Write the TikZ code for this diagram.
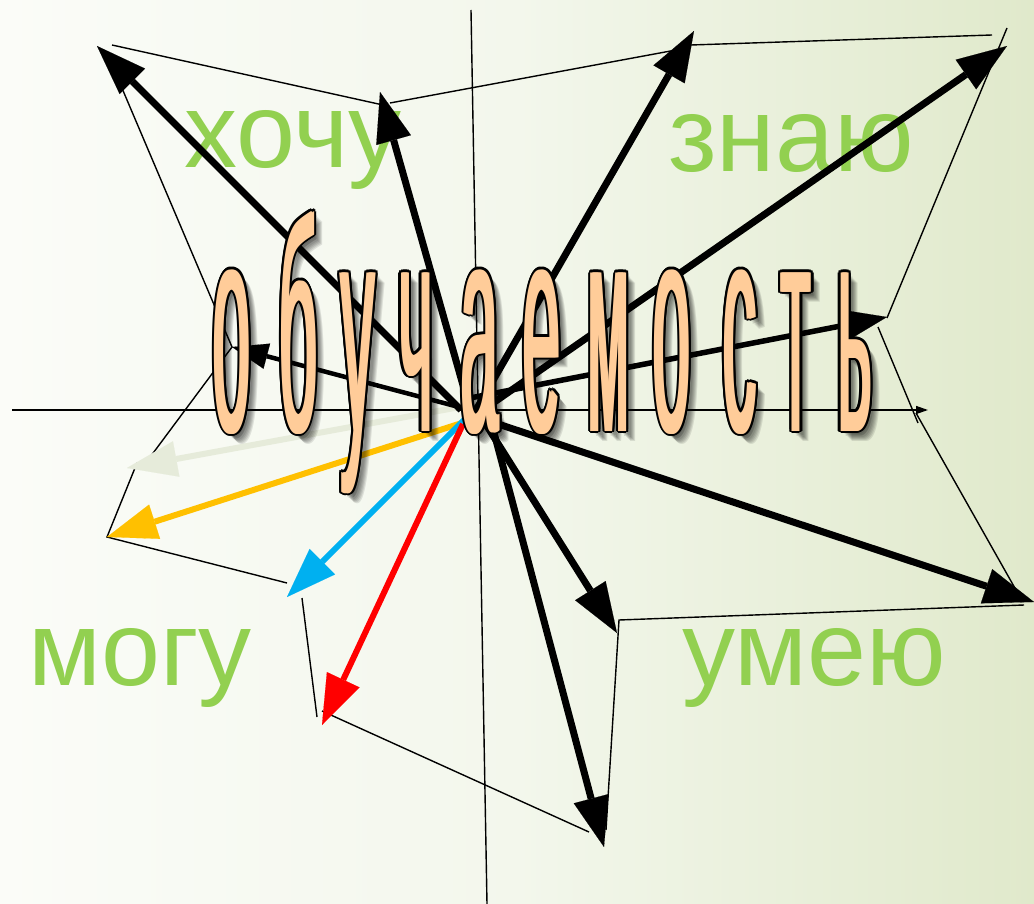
\documentclass[tikz,border=0pt]{standalone}
\usepackage{graphicx}
\usepackage{fontspec}
\setmainfont{Liberation Sans}
\usetikzlibrary{arrows.meta}
\definecolor{grn}{HTML}{92D050}
\definecolor{peach}{HTML}{FFCC99}
\definecolor{orng}{HTML}{FFC000}
\definecolor{sky}{HTML}{00B0F0}
\definecolor{pale}{HTML}{E6EBDA}
\definecolor{bgL}{HTML}{FBFCF8}
\definecolor{bgM}{HTML}{F3F7EC}
\definecolor{bgR}{HTML}{E0E9CB}
\newcommand{\WA}[2][0.225]{\scalebox{#1}[1]{\fontsize{300}{300}\selectfont #2}}
\newcommand{\obletter}[4][0.225]{%
  \foreach \dx/\dy in {3/3,4/5,5/4,6/6,7/7,8/8,9/9,10/10}
    \node[lshadow] at (#3+\dx,431+\dy) {\WA[#1]{#4}};
  \foreach \sx in {-1.4,1.4}
    \foreach \a in {0,30,...,330}
      \node[lout,shift={(\a:2.1pt)},xshift=\sx pt] at (#3,431) {\WA[#1]{#4}};
  \foreach \sx in {-1.4,0,1.4}
    \node[lfill,xshift=\sx pt] at (#3,431) {\WA[#1]{#4}};
  \coordinate (#2) at (#3,431);
}
\begin{document}
\begin{tikzpicture}[x=1pt,y=-1pt,
  thinln/.style={line width=1.4pt,black},
  big/.style={line width=7pt,-{Triangle[length=50pt,width=36pt,line width=0.1pt]}},
  colr/.style={line width=6pt,-{Triangle[length=50pt,width=36pt,line width=0.1pt]}},
  mid/.style={line width=5.5pt,-{Triangle[length=44pt,width=32pt,line width=0.1pt]}},
  small/.style={line width=4.5pt,-{Triangle[length=36pt,width=26pt,line width=0.1pt]}},
  word/.style={anchor=base,inner sep=0pt,text=grn,font=\fontsize{106}{106}\selectfont},
  lshadow/.style={anchor=base,inner sep=0pt,text=black,text opacity=0.1},
  lout/.style={anchor=base,inner sep=0pt,text=black},
  lfill/.style={anchor=base,inner sep=0pt,text=peach}]
\useasboundingbox (0,0) rectangle (1034,904);
\shade[left color=bgL,right color=bgR,middle color=bgM] (0,0) rectangle (1034,904);

% green words
\node[word] (w1) at (293,168) {хочу};
\node[word] (w2) at (791,172) {знаю};
\node[word] (w3) at (140,685) {могу};
\node[word] (w4) at (814,685) {умею};

% axes
\coordinate (ax1) at (12,410);
\coordinate (ax2) at (928,410);
\coordinate (ay1) at (471,10);
\coordinate (ay2) at (487,904);
\draw[thinln,-{Triangle[length=12pt,width=8pt]}] (ax1) -- (ax2);
\draw[thinln] (ay1) -- (ay2);

% thin polygon lines
\coordinate (p1) at (112,45);  \coordinate (p2) at (383,105);
\coordinate (p3) at (390,103); \coordinate (p4) at (676,50);
\coordinate (p5) at (691,45);  \coordinate (p6) at (992,35);
\coordinate (p7) at (1007,28); \coordinate (p8) at (887,318);
\coordinate (p9) at (878,327); \coordinate (p10) at (918,423);
\coordinate (p11) at (916,413); \coordinate (p12) at (1016,590);
\coordinate (p13) at (1024,605); \coordinate (p14) at (619,620);
\coordinate (p15) at (606,830);
\coordinate (p16) at (589,832); \coordinate (p17) at (322,711);
\coordinate (p18) at (317,717); \coordinate (p19) at (302,598);
\coordinate (p20) at (287,583); \coordinate (p21) at (107,537);
\coordinate (p22) at (137,463);
\coordinate (p23) at (142,468); \coordinate (p24) at (232,347);
\coordinate (p25) at (110,60);
\draw[thinln] (p1) -- (p2);
\draw[thinln] (p3) -- (p4);
\draw[thinln] (p5) -- (p6);
\draw[thinln] (p7) -- (p8);
\draw[thinln] (p9) -- (p10);
\draw[thinln] (p11) -- (p12);
\draw[thinln] (p13) -- (p14) -- (p15);
\draw[thinln] (p16) -- (p17);
\draw[thinln] (p18) -- (p19);
\draw[thinln] (p20) -- (p21) -- (p22);
\draw[thinln] (p23) -- (p24) -- (p25);

% arrow starts and tips
\coordinate (s1) at (461,410);  \coordinate (t1) at (97,46);
\coordinate (s2) at (470,410);  \coordinate (t2) at (380,92);
\coordinate (s3) at (476,410);  \coordinate (t3) at (694,31);
\coordinate (s4) at (480,412);  \coordinate (t4) at (1007,46);
\coordinate (s5) at (470,398);  \coordinate (t5) at (887,317);
\coordinate (s6) at (465,413);  \coordinate (t6) at (1034,602);
\coordinate (s7) at (475,407);  \coordinate (t7) at (617,633);
\coordinate (s8) at (488,410);  \coordinate (t8) at (604,847);
\coordinate (s9) at (455,406);  \coordinate (t9) at (232,347);
\coordinate (s10) at (460,407); \coordinate (t10) at (127,468);
\coordinate (s11) at (465,422); \coordinate (t11) at (107,537);
\coordinate (s12) at (470,414); \coordinate (t12) at (287,597);
\coordinate (s13) at (463,424); \coordinate (t13) at (322,725);

\draw[colr,pale] (s10) -- (t10);
\draw[colr,orng] (s11) -- (t11);
\draw[colr,sky] (s12) -- (t12);
\draw[colr,red] (s13) -- (t13);
\draw[big] (s1) -- (t1);
\draw[big] (s2) -- (t2);
\draw[big] (s3) -- (t3);
\draw[big] (s4) -- (t4);
\draw[mid] (s5) -- (t5);
\draw[big] (s6) -- (t6);
\draw[big] (s7) -- (t7);
\draw[big] (s8) -- (t8);
\draw[small] (s9) -- (t9);

% word art letters
\obletter{L1}{232}{о}
\obletter{L2}{298}{б}
\obletter{L3}{358}{у}
\obletter{L4}{416}{ч}
\obletter{L5}{480}{а}
\obletter{L6}{542}{е}
\obletter[0.2]{L7}{609}{м}
\obletter{L8}{672}{о}
\obletter{L9}{740}{с}
\obletter{L10}{796}{т}
\obletter{L11}{855}{ь}
\end{tikzpicture}
\end{document}
